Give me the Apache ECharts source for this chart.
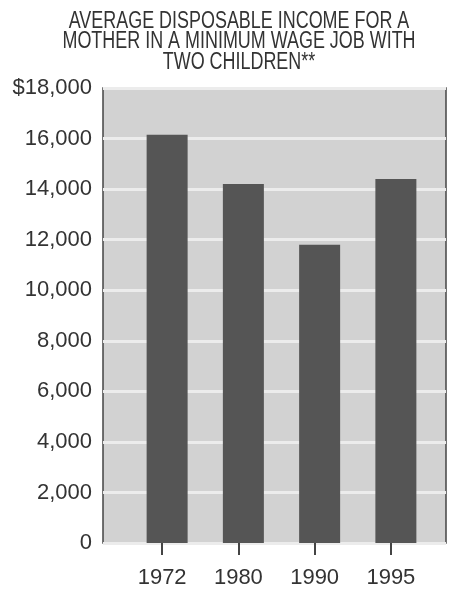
<!DOCTYPE html>
<html>
<head>
<meta charset="utf-8">
<script src="https://cdn.jsdelivr.net/npm/echarts@6/dist/echarts.min.js"></script>
<style>html,body{margin:0;padding:0;background:#fff;}#c{width:452px;height:593px;}</style>
</head>
<body>
<div id="c"></div>
<script>
const titleLines = ['AVERAGE DISPOSABLE INCOME FOR A', 'MOTHER IN A MINIMUM WAGE JOB WITH', 'TWO CHILDREN**'];
const years = ['1972', '1980', '1990', '1995'];
const income = [16150, 14200, 11800, 14400];
const yMin = 0, yMax = 18000, yStep = 2000;

const chart = echarts.init(document.getElementById('c'), null, {renderer: 'canvas'});
const fmt = v => (v === yMax ? '$' : '') + v.toLocaleString('en-US');
chart.setOption({
  animation: false,
  backgroundColor: '#ffffff',
  graphic: [{
    type: 'text', x: 239, y: 11, scaleX: 0.78,
    style: {
      text: titleLines.join('\n'), textAlign: 'center', textVerticalAlign: 'top',
      font: '23px "Liberation Sans"', lineHeight: 20.5, fill: '#333'
    }
  }],
  grid: [
    {left: 103, right: 6, top: 88, bottom: 50, show: true, backgroundColor: '#d2d2d2', borderColor: '#444', borderWidth: 1.5},
    {left: 129, right: 18, top: 88, bottom: 50},
    {left: 124, right: 23, top: 88, bottom: 50}
  ],
  xAxis: [
    {gridIndex: 0, type: 'category', data: years, show: false},
    {gridIndex: 1, type: 'category', data: years, show: false},
    {gridIndex: 2, type: 'category', data: years,
      axisLine: {show: false},
      axisTick: {show: true, alignWithLabel: true, length: 12, lineStyle: {color: '#444', width: 2}},
      axisLabel: {margin: 24, fontSize: 22, color: '#333', fontFamily: 'Liberation Sans'}}
  ],
  yAxis: [
    {gridIndex: 0, type: 'value', min: yMin, max: yMax, interval: yStep,
      axisLine: {show: false}, axisTick: {show: false},
      axisLabel: {formatter: fmt, fontSize: 22, color: '#333', margin: 11, fontFamily: 'Liberation Sans'},
      splitLine: {show: true, lineStyle: {color: '#ececec', width: 3}}},
    {gridIndex: 1, type: 'value', min: yMin, max: yMax, interval: yStep, show: false, splitLine: {show: false}},
    {gridIndex: 2, type: 'value', min: yMin, max: yMax, interval: yStep, show: false, splitLine: {show: false}}
  ],
  series: [{
    type: 'bar', xAxisIndex: 1, yAxisIndex: 1, data: income, barWidth: 41,
    itemStyle: {color: '#555555'}
  }]
});
</script>
</body>
</html>
